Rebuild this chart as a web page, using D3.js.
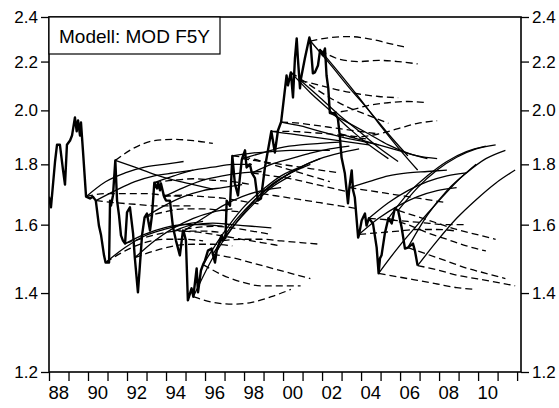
<!DOCTYPE html>
<html><head><meta charset="utf-8">
<script src="https://cdn.jsdelivr.net/npm/d3@7"></script>
<style>
html,body{margin:0;padding:0;background:#fff;}
svg{display:block;}
text{font-family:"Liberation Sans",Arial,Helvetica,sans-serif;fill:#000;}
</style></head>
<body>
<svg id="chart" width="559" height="408"></svg>
<script>
const actualYears = [1988.00,1988.10,1988.31,1988.41,1988.56,1988.72,1988.82,1988.92,1989.08,1989.18,1989.33,1989.42,1989.49,1989.59,1989.64,1989.74,1989.90,
1990.10,1990.25,1990.40,1990.56,1990.67,1990.82,1990.90,1991.08,1991.13,1991.18,1991.28,1991.40,1991.49,1991.59,1991.69,1991.79,1991.90,
1992.00,1992.15,1992.31,1992.40,1992.56,1992.66,1992.77,1992.90,1993.02,1993.18,1993.28,1993.40,1993.54,1993.59,1993.69,1993.74,1993.90,
1994.00,1994.20,1994.36,1994.40,1994.51,1994.71,1994.87,1994.90,1995.02,1995.12,1995.31,1995.40,1995.57,1995.64,1995.79,1995.90,
1996.00,1996.15,1996.34,1996.40,1996.51,1996.60,1996.85,1996.90,1997.05,1997.11,1997.28,1997.40,1997.53,1997.69,1997.88,1997.90,
1998.05,1998.13,1998.30,1998.40,1998.56,1998.71,1998.87,1998.90,1999.07,1999.40,1999.58,1999.74,1999.90,
2000.00,2000.18,2000.25,2000.40,2000.51,2000.61,2000.70,2000.76,2000.87,2000.90,2000.95,2001.12,2001.35,2001.40,2001.53,2001.63,2001.79,2001.90,
2002.04,2002.15,2002.23,2002.32,2002.40,2002.66,2002.81,2002.90,2003.00,2003.17,2003.33,2003.40,2003.52,2003.59,2003.68,2003.85,2003.90,
2004.03,2004.20,2004.28,2004.40,2004.61,2004.80,2004.90,2004.97,2005.05,2005.22,2005.40,2005.57,2005.73,2005.90,
2006.08,2006.25,2006.40,2006.66,2006.76,2006.90];
const actualValues = [1.69,1.655,1.81,1.87,1.87,1.78,1.73,1.87,1.886,1.904,1.973,1.92,1.961,1.904,1.953,1.85,1.69,
1.684,1.69,1.677,1.597,1.567,1.507,1.486,1.486,1.677,1.661,1.694,1.814,1.677,1.629,1.567,1.551,1.542,
1.639,1.655,1.573,1.50,1.402,1.477,1.567,1.623,1.635,1.582,1.629,1.737,1.717,1.737,1.711,1.734,1.69,
1.677,1.677,1.591,1.58,1.551,1.507,1.582,1.58,1.551,1.38,1.413,1.39,1.469,1.402,1.463,1.48,
1.492,1.521,1.527,1.51,1.486,1.521,1.567,1.551,1.56,1.677,1.66,1.83,1.734,1.694,1.814,1.82,
1.85,1.789,1.80,1.77,1.752,1.677,1.684,1.70,1.789,1.92,1.842,1.923,1.955,
2.019,2.141,2.10,2.154,2.051,2.214,2.302,2.214,2.088,2.12,2.141,2.214,2.306,2.29,2.150,2.154,2.183,2.25,
2.227,2.257,2.141,2.088,1.99,1.988,1.969,1.91,1.824,1.768,1.668,1.72,1.779,1.711,1.687,1.56,1.57,
1.613,1.635,1.597,1.62,1.604,1.530,1.455,1.498,1.507,1.573,1.62,1.604,1.651,1.645,
1.591,1.527,1.53,1.542,1.521,1.477];

const originYears = [1989.9,1990.4,1990.9,1991.4,1991.9,1992.4,1992.9,1993.4,1993.9,1994.4,1994.9,1995.4,1995.9,1996.4,1996.9,1997.4,1997.9,1998.4,1998.9,1999.4,1999.9,2000.4,2000.9,2001.4,2001.9,2002.4,2002.9,2003.4,2003.9,2004.4,2004.9,2005.4,2005.9,2006.4,2006.9];
const horizonYears = [0,1,2,3,4,5];

const solidForecasts = [
[1.69,1.74,1.77,1.79,1.80,1.81],
[1.677,1.71,1.74,1.76,1.77,1.78],
[1.486,1.53,1.565,1.585,1.60,1.61],
[1.814,1.79,1.765,1.745,1.73,1.715],
[1.542,1.57,1.59,1.60,1.60,1.595],
[1.50,1.55,1.59,1.62,1.64,1.65],
[1.623,1.66,1.69,1.71,1.72,1.73],
[1.737,1.76,1.78,1.79,1.80,1.80],
[1.69,1.72,1.745,1.76,1.77,1.775],
[1.58,1.60,1.605,1.60,1.595,1.59],
[1.58,1.62,1.66,1.69,1.71,1.72],
[1.39,1.50,1.59,1.66,1.72,1.76],
[1.48,1.57,1.65,1.71,1.76,1.79],
[1.51,1.60,1.67,1.73,1.77,1.80],
[1.551,1.63,1.70,1.75,1.79,1.82],
[1.83,1.84,1.845,1.85,1.85,1.85],
[1.82,1.84,1.86,1.87,1.875,1.88],
[1.77,1.80,1.82,1.84,1.855,1.865],
[1.70,1.75,1.79,1.82,1.84,1.855],
[1.92,1.91,1.90,1.89,1.88,1.87],
[1.955,1.94,1.92,1.90,1.885,1.87],
[2.154,2.07,2.00,1.93,1.87,1.82],
[2.12,2.05,1.98,1.92,1.86,1.81],
[2.29,2.19,2.09,2.00,1.91,1.83],
[2.25,2.15,2.05,1.95,1.86,1.78],
[1.99,1.95,1.91,1.87,1.84,1.82],
[1.91,1.89,1.87,1.85,1.83,1.82],
[1.72,1.74,1.76,1.77,1.775,1.78],
[1.57,1.62,1.66,1.69,1.71,1.72],
[1.62,1.67,1.71,1.74,1.76,1.77],
[1.455,1.53,1.60,1.67,1.74,1.80],
[1.62,1.70,1.76,1.81,1.845,1.865],
[1.645,1.72,1.78,1.825,1.855,1.87],
[1.53,1.63,1.71,1.77,1.82,1.85],
[1.477,1.55,1.62,1.68,1.735,1.78]
];
const dashedForecasts = [
[1.69,1.70,1.70,1.70,1.695,1.69],
[1.677,1.67,1.665,1.66,1.66,1.66],
[1.486,1.52,1.545,1.555,1.555,1.55],
[1.814,1.86,1.885,1.89,1.885,1.875],
[1.542,1.56,1.575,1.58,1.58,1.575],
[1.50,1.52,1.535,1.54,1.54,1.535],
[1.623,1.64,1.65,1.65,1.645,1.64],
[1.737,1.745,1.75,1.745,1.74,1.73],
[1.69,1.695,1.69,1.685,1.675,1.665],
[1.58,1.59,1.595,1.59,1.58,1.57],
[1.58,1.575,1.565,1.555,1.545,1.535],
[1.39,1.375,1.37,1.375,1.39,1.41],
[1.48,1.45,1.43,1.42,1.42,1.42],
[1.51,1.50,1.485,1.47,1.455,1.44],
[1.551,1.555,1.555,1.55,1.545,1.54],
[1.83,1.82,1.80,1.78,1.76,1.74],
[1.82,1.81,1.80,1.79,1.78,1.77],
[1.77,1.76,1.75,1.735,1.72,1.705],
[1.70,1.69,1.68,1.67,1.66,1.65],
[1.92,1.92,1.915,1.91,1.90,1.89],
[1.955,1.95,1.94,1.93,1.92,1.91],
[2.154,2.10,2.05,2.01,1.98,1.95],
[2.12,2.10,2.08,2.065,2.055,2.05],
[2.29,2.305,2.31,2.30,2.28,2.26],
[2.25,2.21,2.20,2.205,2.20,2.19],
[1.99,2.00,2.02,2.03,2.035,2.03],
[1.91,1.90,1.91,1.93,1.95,1.96],
[1.72,1.71,1.70,1.69,1.68,1.67],
[1.57,1.575,1.58,1.585,1.585,1.58],
[1.62,1.615,1.61,1.605,1.60,1.60],
[1.455,1.445,1.435,1.425,1.415,1.41],
[1.62,1.60,1.575,1.555,1.535,1.52],
[1.645,1.625,1.605,1.585,1.57,1.555],
[1.53,1.51,1.49,1.47,1.455,1.44],
[1.477,1.465,1.45,1.44,1.43,1.42]
];

const yTickValues = [1.2,1.4,1.6,1.8,2.0,2.2,2.4];
const xTickYears = d3.range(1988, 2013);
const xLabelYears = [1988,1990,1992,1994,1996,1998,2000,2002,2004,2006,2008,2010];
const legendText = "Modell: MOD F5Y";

const svg = d3.select("#chart");
const L = 49, R = 521, T = 17, B = 372;
const x = d3.scaleLinear().domain([1988, 2012.2]).range([L, R]);
const y = d3.scaleLog().domain([1.2, 2.4]).range([B, T]);

svg.append("defs").append("clipPath").attr("id","clip")
  .append("rect").attr("x",L).attr("y",T).attr("width",R-L).attr("height",B-T);

const plot = svg.append("g").attr("clip-path","url(#clip)");

const fline = d3.line().x(d=>x(d[0])).y(d=>y(d[1])).curve(d3.curveMonotoneX);

originYears.forEach((t,i)=>{
  const dPts = horizonYears.map((h,j)=>[t+h, dashedForecasts[i][j]]);
  plot.append("path").attr("d", fline(dPts)).attr("fill","none")
    .attr("stroke","#000").attr("stroke-width",1.3).attr("stroke-dasharray","7,4");
});
originYears.forEach((t,i)=>{
  const sPts = horizonYears.map((h,j)=>[t+h, solidForecasts[i][j]]);
  plot.append("path").attr("d", fline(sPts)).attr("fill","none")
    .attr("stroke","#000").attr("stroke-width",1.3);
});

const aline = d3.line().x(d=>x(d[0])).y(d=>y(d[1]));
plot.append("path").attr("d", aline(actualYears.map((t,i)=>[t, actualValues[i]])))
  .attr("fill","none").attr("stroke","#000").attr("stroke-width",2.4).attr("stroke-linejoin","round");

svg.append("rect").attr("x",L).attr("y",T).attr("width",R-L).attr("height",B-T)
  .attr("fill","none").attr("stroke","#000").attr("stroke-width",1.6);

const yLeft = d3.axisLeft(y).tickValues(yTickValues).tickFormat(d3.format(".1f")).tickSize(8).tickPadding(3);
const yRight = d3.axisRight(y).tickValues(yTickValues).tickFormat(d3.format(".1f")).tickSize(8).tickPadding(3);
const gL = svg.append("g").attr("transform",`translate(${L},0)`).call(yLeft);
const gR = svg.append("g").attr("transform",`translate(${R},0)`).call(yRight);
[gL,gR].forEach(g=>{
  g.select(".domain").remove();
  g.selectAll("line").attr("stroke","#000").attr("stroke-width",1.3);
  g.selectAll("text").style("font-size","17px").attr("font-family","Liberation Sans, Arial, sans-serif");
});

const xAx = d3.axisBottom(x).tickValues(xTickYears).tickFormat("").tickSize(9);
const gX = svg.append("g").attr("transform",`translate(0,${B})`).call(xAx);
gX.select(".domain").remove();
gX.selectAll("line").attr("stroke","#000").attr("stroke-width",1.3);
svg.append("g").selectAll("text").data(xLabelYears).join("text")
  .attr("x", d=>x(d+0.5)).attr("y", 399).attr("text-anchor","middle")
  .style("font-size","18.5px").text(d=>String(d%100).padStart(2,"0"));

svg.append("rect").attr("x",L).attr("y",T).attr("width",171).attr("height",37)
  .attr("fill","#fff").attr("stroke","#000").attr("stroke-width",1.2);
svg.append("text").attr("x",59).attr("y",43).style("font-size","19px").text(legendText);
</script>
</body></html>
